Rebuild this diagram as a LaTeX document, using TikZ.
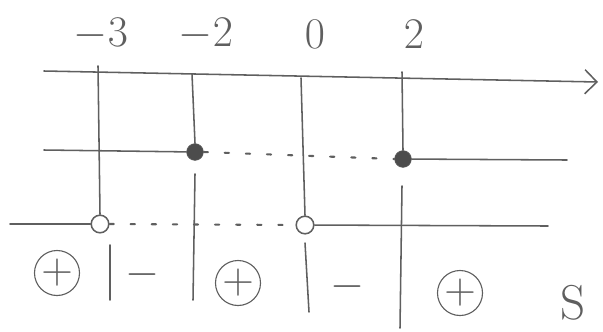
\documentclass[tikz,border=0pt]{standalone}
\usepackage{tikz}
\usetikzlibrary{arrows.meta}
\definecolor{pencil}{RGB}{95,95,95}

\begin{document}
\begin{tikzpicture}[x=0.025cm, y=-0.025cm,
  pen/.style={draw=pencil, line width=1.1pt, line cap=round},
  gaps/.style={draw=pencil, line width=1.5pt, line cap=round,
               dash pattern=on 3pt off 12pt},
  full/.style={circle, fill=pencil!80!black, draw=pencil,
               minimum size=0.42cm, inner sep=0pt},
  hollow/.style={circle, fill=white, draw=pencil, line width=1.1pt,
                 minimum size=0.44cm, inner sep=0pt},
  num/.style={font=\Huge, scale=1.25, text=pencil, inner sep=1pt},
  minus/.style={font=\Huge, scale=1.25, text=pencil},
  plus/.style={circle, draw=pencil, line width=0.8pt, font=\Huge,
               scale=1.25, text=pencil, minimum size=0.9cm, inner sep=0pt}]

  \useasboundingbox (0,0) rectangle (603,331);

  % values above the axis
  \node[num] (m3) at (101,34) {$-3$};
  \node[num] (m2) at (206,34) {$-2$};
  \node[num] (z0) at (315,34) {$0$};
  \node[num] (p2) at (414,34) {$2$};

  % axis
  \coordinate (ax0) at (44,71);
  \coordinate (ax1) at (598,82);
  \draw[pen, -{Straight Barb[length=3mm,width=6mm]}] (ax0) -- (ax1);

  % first row: filled dots at -2 and 2
  \node[full] (d1) at (195,152) {};
  \node[full] (d2) at (403,159) {};
  \coordinate (r1a) at (44,150);
  \coordinate (r1b) at (567,160);
  \draw[pen] (r1a) -- (d1);
  \draw[pen] (d2) -- (r1b);
  \draw[gaps] (d1.east) -- (d2.west);

  % second row: open circles at -3 and 0
  \node[hollow] (c1) at (100,224) {};
  \node[hollow] (c2) at (305,225) {};
  \coordinate (r2a) at (10,224);
  \coordinate (r2b) at (548,226);
  \draw[pen] (r2a) -- (c1);
  \draw[pen] (c2) -- (r2b);
  \draw[gaps] (c1.east) -- (c2.west);

  % verticals through the rows
  \coordinate (t1) at (98,66);
  \coordinate (t2) at (192,74);
  \coordinate (t3) at (301,78);
  \coordinate (t4) at (402,72);
  \draw[pen] (t1) -- (c1.north);
  \draw[pen] (t2) -- (d1.north);
  \draw[pen] (t3) -- (c2.north);
  \draw[pen] (t4) -- (d2.north);

  % verticals between the signs
  \coordinate (b1a) at (110,245);  \coordinate (b1b) at (110,300);
  \coordinate (b2a) at (195,174);  \coordinate (b2b) at (193,300);
  \coordinate (b3a) at (305,243);  \coordinate (b3b) at (309,312);
  \coordinate (b4a) at (402,186);  \coordinate (b4b) at (400,328);
  \draw[pen] (b1a) -- (b1b);
  \draw[pen] (b2a) -- (b2b);
  \draw[pen] (b3a) -- (b3b);
  \draw[pen] (b4a) -- (b4b);

  % signs
  \node[plus]  (s1) at (57,273)  {$+$};
  \node[minus] (s2) at (143,275) {$-$};
  \node[plus]  (s3) at (238,283) {$+$};
  \node[minus] (s4) at (348,287) {$-$};
  \node[plus]  (s5) at (460,293) {$+$};
  \node[text=pencil, font=\Huge, scale=1.4] (sol) at (573,303) {S};
\end{tikzpicture}
\end{document}
